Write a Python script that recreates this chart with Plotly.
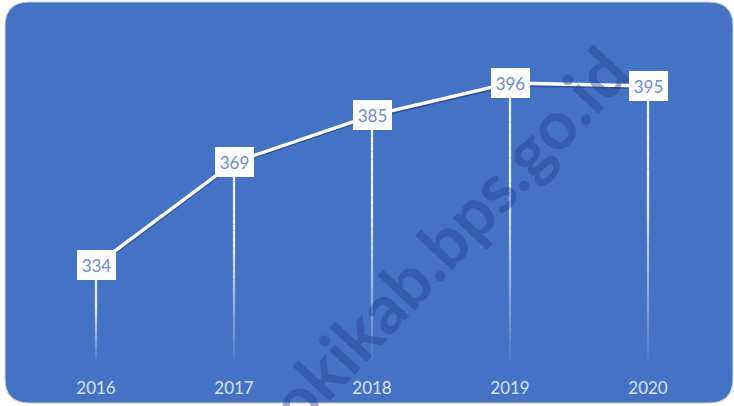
import plotly.graph_objects as go

years = ["2016", "2017", "2018", "2019", "2020"]
values = [334, 369, 385, 396, 395]
watermark = "okikab.bps.go.id"

W, H = 734, 406
MB = 30
PH = H - MB
BG = "#4472C4"

fig = go.Figure()

xi = list(range(len(years)))

# subtle shadow under main line
fig.add_trace(go.Scatter(x=xi, y=[v - 0.8 for v in values], mode="lines",
                         line=dict(color="rgba(25,45,110,0.45)", width=2),
                         hoverinfo="skip", showlegend=False))
fig.add_trace(go.Scatter(x=xi, y=values, mode="lines",
                         line=dict(color="white", width=3.4),
                         hoverinfo="skip", showlegend=False))

shapes = []
def px(x):
    return x / W
def py(y):
    return (PH - y) / PH
x0, x1, y0, y1, r = 5, 733, 2, 403, 24
path = (f"M {px(x0+r)},{py(y0)} L {px(x1-r)},{py(y0)} Q {px(x1)},{py(y0)} {px(x1)},{py(y0+r)} "
        f"L {px(x1)},{py(y1-r)} Q {px(x1)},{py(y1)} {px(x1-r)},{py(y1)} "
        f"L {px(x0+r)},{py(y1)} Q {px(x0)},{py(y1)} {px(x0)},{py(y1-r)} "
        f"L {px(x0)},{py(y0+r)} Q {px(x0)},{py(y0)} {px(x0+r)},{py(y0)} Z")
shapes.append(dict(type="path", path=path, xref="paper", yref="paper",
                   fillcolor=BG, line=dict(color="#d0d0d0", width=1.2), layer="below"))

# fading drop lines
base = 302.0
N = 30
for i, v in zip(xi, values):
    top = v - 4.5
    for k in range(N):
        a = top - (top - base) * k / N
        b = top - (top - base) * (k + 1) / N
        t = k / N
        op = 0.92 if t < 0.35 else 0.92 - (t - 0.35) / 0.65 * 0.88
        shapes.append(dict(type="line", xref="x", yref="y", x0=i, x1=i, y0=a, y1=b,
                           line=dict(color=f"rgba(255,255,255,{op:.3f})", width=2.2),
                           layer="below"))

annotations = []
annotations.append(dict(text=f"<b>{watermark}</b>", x=px(447), y=py(236), xref="paper", yref="paper",
                        showarrow=False, textangle=-47,
                        font=dict(family="Lato, Open Sans, sans-serif", size=68,
                                  color="rgba(35,65,140,0.42)")))
for i, v in zip(xi, values):
    annotations.append(dict(text=str(v), x=i, y=v, xref="x", yref="y", showarrow=False,
                            bgcolor="white", bordercolor="white", borderwidth=1, borderpad=1,
                            width=35, height=26,
                            font=dict(family="Lato, sans-serif", size=17, color="#6a8bd3")))

fig.update_layout(
    width=W, height=H,
    margin=dict(l=0, r=0, t=0, b=MB),
    paper_bgcolor="white", plot_bgcolor="rgba(0,0,0,0)",
    shapes=shapes, annotations=annotations,
    showlegend=False,
    xaxis=dict(range=[-96/138, (W-96)/138], tickmode="array", tickvals=xi, ticktext=years,
               showgrid=False, zeroline=False, showline=False, ticks="",
               tickfont=dict(family="Lato, sans-serif", size=17, color="#d8e2f6")),
    yaxis=dict(range=[334 - (PH-265)/2.935, 334 + 265/2.935], visible=False,
               showgrid=False, zeroline=False),
)

fig.write_html("out.html", config={"displayModeBar": False},
               post_script="document.body.style.margin='0';document.body.style.overflow='hidden';")
